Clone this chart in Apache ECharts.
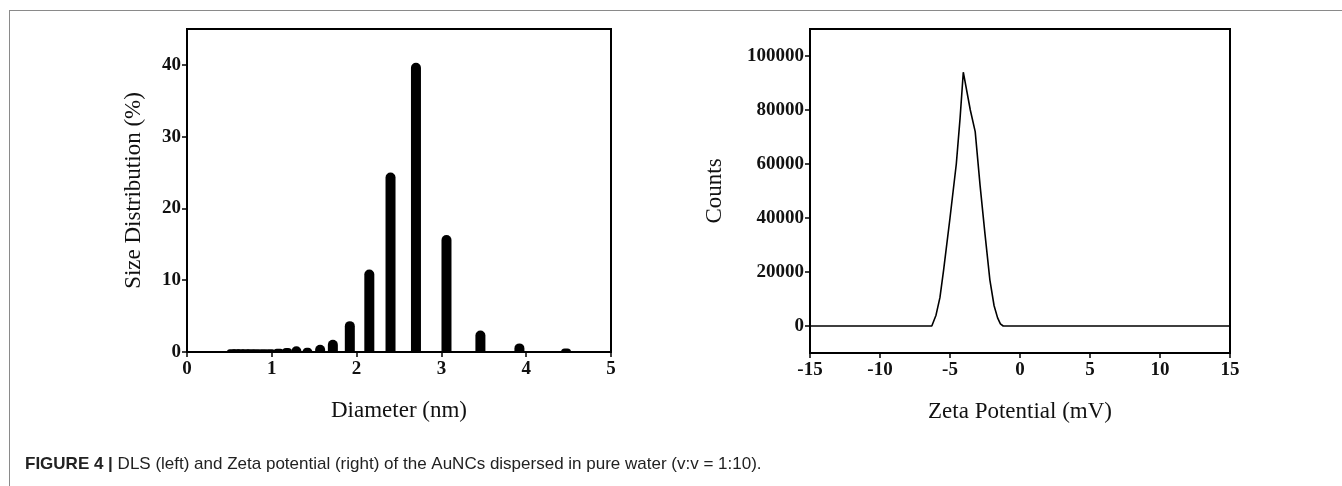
<!DOCTYPE html>
<html>
<head>
<meta charset="utf-8">
<script src="https://cdn.jsdelivr.net/npm/echarts@6/dist/echarts.min.js"></script>
<style>
  html, body { margin: 0; padding: 0; background: #fff; }
  #wrap { position: relative; width: 1342px; height: 486px; overflow: hidden; }
  #frame { position: absolute; left: 9px; top: 10px; width: 1400px; height: 600px;
           border-top: 1px solid #8a8a8a; border-left: 1px solid #8a8a8a; }
  #chart { position: absolute; left: 0; top: 0; width: 1342px; height: 486px; }
</style>
</head>
<body>
<div id="wrap">
  <div id="frame"></div>
  <div id="chart"></div>
</div>
<script>
// DLS histogram (left): diameter bins in nm and their share in %
const diameters = [0.53, 0.58, 0.63, 0.69, 0.75, 0.82, 0.9, 0.98, 1.08, 1.18, 1.29, 1.42, 1.57, 1.72,
                   1.92, 2.15, 2.40, 2.70, 3.06, 3.46, 3.92, 4.47];
const sizeShare = [0.4, 0.4, 0.4, 0.4, 0.4, 0.4, 0.4, 0.4, 0.45, 0.55, 0.8, 0.6, 1.0, 1.7,
                   4.3, 11.5, 25.0, 40.3, 16.3, 3.0, 1.2, 0.5];

// Zeta potential (right): mV vs counts
const zetaMv = [-15, -6.3, -6.0, -5.72, -5.45, -5.0, -4.55, -4.28, -4.05, -3.55, -3.2, -2.85, -2.5, -2.15, -1.85, -1.6, -1.4, -1.2, 15];
const zetaCounts = [0, 0, 4000, 10500, 21000, 40000, 60000, 77000, 94000, 80000, 72000, 52000, 34000, 17000, 7500, 3000, 800, 0, 0];

const leftYTicks = [0, 10, 20, 30, 40];
const rightYTicks = [0, 20000, 40000, 60000, 80000, 100000];

const serif = 'Liberation Serif';
const tickFont = { fontFamily: serif, fontSize: 19, fontWeight: 'bold', color: '#111' };
const nameFont = { fontFamily: serif, fontSize: 23, color: '#111' };
const axisLine = { show: true, onZero: false, lineStyle: { color: '#000', width: 2 } };
const axisTick = { show: true, length: 5, lineStyle: { color: '#000', width: 1.5 } };
const plain = v => String(v);

const chart = echarts.init(document.getElementById('chart'));
chart.setOption({
  animation: false,
  backgroundColor: 'transparent',
  title: {
    left: 25, top: 456, padding: 0,
    text: '{b|FIGURE 4 |} DLS (left) and Zeta potential (right) of the AuNCs dispersed in pure water (v:v = 1:10).',
    textStyle: {
      fontFamily: 'Liberation Sans', fontSize: 17, fontWeight: 'normal', color: '#222',
      rich: { b: { fontFamily: 'Liberation Sans', fontSize: 17, fontWeight: 'bold', color: '#222' } }
    }
  },
  grid: [
    { left: 187, top: 29, width: 424, height: 323, show: true, borderColor: '#000', borderWidth: 2 },
    { left: 810, top: 29, width: 420, height: 324, show: true, borderColor: '#000', borderWidth: 2 }
  ],
  xAxis: [
    {
      gridIndex: 0, type: 'value', min: 0, max: 5, interval: 1,
      name: 'Diameter (nm)', nameLocation: 'middle', nameGap: 47, nameTextStyle: nameFont,
      axisLine: axisLine, axisTick: axisTick, splitLine: { show: false },
      axisLabel: Object.assign({ margin: 8, formatter: plain }, tickFont)
    },
    {
      gridIndex: 1, type: 'value', min: -15, max: 15, interval: 5,
      name: 'Zeta Potential (mV)', nameLocation: 'middle', nameGap: 47, nameTextStyle: nameFont,
      axisLine: axisLine, axisTick: axisTick, splitLine: { show: false },
      axisLabel: Object.assign({ margin: 8, formatter: plain }, tickFont)
    }
  ],
  yAxis: [
    {
      gridIndex: 0, type: 'value', min: 0, max: 45,
      name: 'Size Distribution (%)', nameLocation: 'middle', nameGap: 42, nameTextStyle: nameFont,
      axisLine: axisLine,
      axisTick: Object.assign({ customValues: leftYTicks }, axisTick),
      splitLine: { show: false },
      axisLabel: Object.assign({ margin: 6, customValues: leftYTicks, formatter: plain }, tickFont)
    },
    {
      gridIndex: 1, type: 'value', min: -10000, max: 110000,
      name: 'Counts', nameLocation: 'middle', nameGap: 84, nameTextStyle: nameFont,
      axisLine: axisLine,
      axisTick: Object.assign({ customValues: rightYTicks }, axisTick),
      splitLine: { show: false },
      axisLabel: Object.assign({ margin: 6, customValues: rightYTicks, formatter: plain }, tickFont)
    }
  ],
  series: [
    {
      type: 'bar', xAxisIndex: 0, yAxisIndex: 0,
      data: diameters.map((d, i) => [d, sizeShare[i]]),
      barWidth: 10,
      itemStyle: { color: '#000', borderRadius: [5, 5, 0, 0] }
    },
    {
      type: 'line', xAxisIndex: 1, yAxisIndex: 1,
      data: zetaMv.map((v, i) => [v, zetaCounts[i]]),
      showSymbol: false, smooth: false,
      lineStyle: { color: '#000', width: 1.6 }
    }
  ]
});
</script>
</body>
</html>
